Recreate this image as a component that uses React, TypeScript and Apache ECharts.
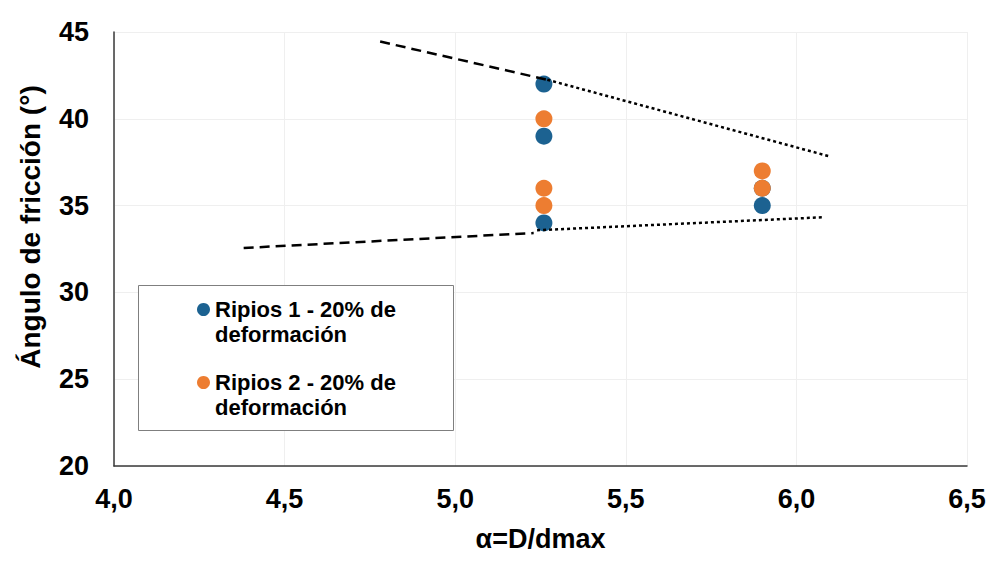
import React, { useEffect, useRef } from "react";
import * as echarts from "echarts";

const ripios1X = [5.26, 5.26, 5.26, 5.9, 5.9];
const ripios1Y = [42, 39, 34, 36, 35];
const ripios2X = [5.26, 5.26, 5.26, 5.9, 5.9];
const ripios2Y = [40, 36, 35, 37, 36];

const upperDashed = [[4.78, 44.45], [5.27, 42.25]];
const upperDotted = [[5.27, 42.25], [6.1, 37.82]];
const lowerDashed = [[4.38, 32.56], [5.23, 33.42]];
const lowerDotted = [[5.24, 33.58], [6.08, 34.33]];

const xTicks = { min: 4, max: 6.5, interval: 0.5 };
const yTicks = { min: 20, max: 45, interval: 5 };

const seriesNames = ["Ripios 1 - 20% de\ndeformación", "Ripios 2 - 20% de\ndeformación"];
const xTitle = "α=D/dmax";
const yTitle = "Ángulo de fricción (°)";

const FONT = "'Liberation Sans', Arial, sans-serif";
const BLUE = "#1c6291";
const ORANGE = "#ed7d31";

export default function App() {
  const ref = useRef<HTMLDivElement>(null);
  useEffect(() => {
    if (!ref.current) return;
    const chart = echarts.init(ref.current, null, { renderer: "svg" });
    const zip = (xs: number[], ys: number[]) => xs.map((x, i) => [x, ys[i]]);
    const lineSeries = (data: number[][], dash: number[], width: number) => ({
      type: "line",
      data,
      showSymbol: false,
      symbol: "none",
      silent: true,
      z: 3,
      lineStyle: { color: "#000", width, type: dash },
    });
    chart.setOption({
      animation: false,
      textStyle: { fontFamily: FONT },
      grid: { left: 114, right: 28, top: 32, bottom: 97, containLabel: false },
      xAxis: {
        type: "value",
        min: xTicks.min,
        max: xTicks.max,
        interval: xTicks.interval,
        name: xTitle,
        nameLocation: "middle",
        nameGap: 59,
        nameTextStyle: { fontSize: 27, fontWeight: "bold", color: "#000", fontFamily: FONT },
        axisLine: { show: true, lineStyle: { color: "#3a3a3a", width: 1.5 } },
        axisTick: { show: false },
        axisLabel: {
          margin: 19,
          fontSize: 27,
          fontWeight: "bold",
          color: "#000",
          fontFamily: FONT,
          formatter: (v: number) => v.toFixed(1).replace(".", ","),
        },
        splitLine: { show: true, lineStyle: { color: "#efefef", width: 1 } },
      },
      yAxis: {
        type: "value",
        min: yTicks.min,
        max: yTicks.max,
        interval: yTicks.interval,
        axisLine: { show: true, onZero: false, lineStyle: { color: "#3a3a3a", width: 1.5 } },
        axisTick: { show: false },
        axisLabel: {
          margin: 25,
          fontSize: 27,
          fontWeight: "bold",
          color: "#000",
          fontFamily: FONT,
        },
        splitLine: { show: true, lineStyle: { color: "#efefef", width: 1 } },
      },
      legend: {
        orient: "vertical",
        left: 197,
        top: 272,
        padding: 0,
        itemGap: -2,
        itemWidth: 13,
        itemHeight: 13,
        icon: "circle",
        data: seriesNames,
        selectedMode: false,
        formatter: (name: string) => " \n" + name,
        textStyle: {
          fontSize: 22,
          fontWeight: "bold",
          color: "#000",
          fontFamily: FONT,
          lineHeight: 25,
        },
      },
      graphic: [
        {
          type: "rect",
          left: 138,
          top: 285,
          z: 3,
          shape: { width: 315, height: 145 },
          style: { fill: "#fff", stroke: "#7f7f7f", lineWidth: 1 },
        },
        {
          type: "text",
          x: 30,
          y: 227,
          rotation: Math.PI / 2,
          style: {
            text: yTitle,
            fontSize: 28,
            fontWeight: "bold",
            fontFamily: FONT,
            fill: "#000",
            align: "center",
            verticalAlign: "middle",
          },
        },
      ],
      series: [
        {
          name: seriesNames[0],
          type: "scatter",
          symbolSize: 17,
          itemStyle: { color: BLUE, opacity: 1 },
          data: zip(ripios1X, ripios1Y),
        },
        {
          name: seriesNames[1],
          type: "scatter",
          symbolSize: 17,
          itemStyle: { color: ORANGE, opacity: 1 },
          data: zip(ripios2X, ripios2Y),
        },
        lineSeries(upperDashed, [10, 6], 2.5),
        lineSeries(upperDotted, [3, 3], 2.5),
        lineSeries(lowerDashed, [10, 6], 2.5),
        lineSeries(lowerDotted, [3, 3], 2.5),
      ],
    });
    return () => chart.dispose();
  }, []);
  return (
    <div
      ref={ref}
      style={{ position: "fixed", left: 0, top: 0, width: 995, height: 563, background: "#fff" }}
    />
  );
}
